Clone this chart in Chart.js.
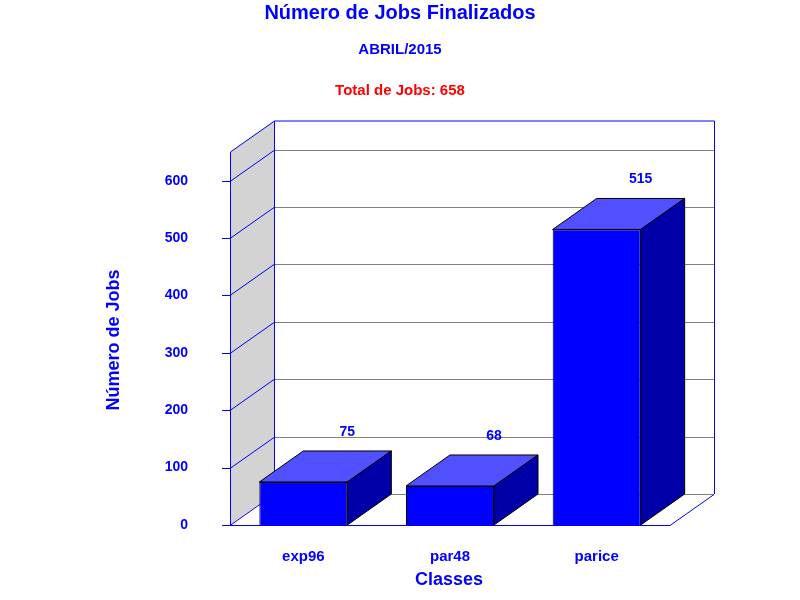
<!DOCTYPE html>
<html><head><meta charset="utf-8">
<script src="https://cdn.jsdelivr.net/npm/chart.js@4/dist/chart.umd.min.js"></script>
<style>html,body{margin:0;padding:0;background:#fff}#w{width:800px;height:600px}</style>
</head><body><div id="w"><canvas id="c"></canvas></div>
<script>
const categories = ["exp96", "par48", "parice"];
const jobs = [75, 68, 515];
const yTicks = [0, 100, 200, 300, 400, 500, 600];
const titleText = "Número de Jobs Finalizados";
const subtitleText = "ABRIL/2015";
const totalText = "Total de Jobs: 658";

const DX = 44, DY = -31;
const F = '"Liberation Sans", Arial, sans-serif';
const BLUE = '#0000ff';

const threeD = {
  id: 'threeD',
  beforeDatasetsDraw(chart) {
    const ctx = chart.ctx, a = chart.chartArea, y = chart.scales.y;
    const L = a.left, R = a.right, B = a.bottom, T = y.getPixelForValue(650);
    ctx.save();
    // left wall
    ctx.fillStyle = '#d3d3d3';
    ctx.beginPath(); ctx.moveTo(L, B); ctx.lineTo(L, T); ctx.lineTo(L + DX, T + DY); ctx.lineTo(L + DX, B + DY); ctx.closePath(); ctx.fill();
    ctx.lineWidth = 1;
    // gridlines
    yTicks.forEach(v => {
      const p = Math.round(y.getPixelForValue(v)) + 0.5;
      ctx.strokeStyle = '#808080';
      ctx.beginPath(); ctx.moveTo(L + DX, p + DY); ctx.lineTo(R + DX, p + DY); ctx.stroke();
      ctx.strokeStyle = BLUE;
      ctx.beginPath(); ctx.moveTo(L - 8, p); ctx.lineTo(L, p); ctx.lineTo(L + DX, p + DY); ctx.stroke();
    });
    ctx.strokeStyle = BLUE;
    ctx.beginPath();
    ctx.moveTo(L + .5, B); ctx.lineTo(L + .5, T); ctx.lineTo(L + DX + .5, T + DY);
    ctx.lineTo(R + DX + .5, T + DY); ctx.lineTo(R + DX + .5, B + DY);
    ctx.moveTo(L + DX + .5, T + DY); ctx.lineTo(L + DX + .5, B + DY);
    ctx.moveTo(L, B + .5); ctx.lineTo(R, B + .5); ctx.lineTo(R + DX, B + DY + .5);
    ctx.stroke();
    ctx.restore();
  },
  afterDatasetsDraw(chart) {
    const ctx = chart.ctx;
    ctx.save();
    chart.getDatasetMeta(0).data.forEach((bar, i) => {
      const l = bar.x - bar.width / 2, r = bar.x + bar.width / 2, t = bar.y, b = bar.base;
      ctx.strokeStyle = '#000'; ctx.lineWidth = 1;
      ctx.fillStyle = '#5050ff';
      ctx.beginPath(); ctx.moveTo(l, t); ctx.lineTo(l + DX, t + DY); ctx.lineTo(r + DX, t + DY); ctx.lineTo(r, t); ctx.closePath(); ctx.fill(); ctx.stroke();
      ctx.fillStyle = '#0000a8';
      ctx.beginPath(); ctx.moveTo(r, t); ctx.lineTo(r + DX, t + DY); ctx.lineTo(r + DX, b + DY); ctx.lineTo(r, b); ctx.closePath(); ctx.fill(); ctx.stroke();
      ctx.fillStyle = BLUE; ctx.font = 'bold 14px ' + F; ctx.textAlign = 'center'; ctx.textBaseline = 'middle';
      ctx.fillText(String(jobs[i]), bar.x + DX, t + DY - 19);
    });
    // titles
    ctx.textAlign = 'center'; ctx.textBaseline = 'middle';
    ctx.fillStyle = BLUE; ctx.font = 'bold 20px ' + F; ctx.fillText(titleText, 400, 13);
    ctx.font = 'bold 15px ' + F; ctx.fillText(subtitleText, 400, 50);
    ctx.fillStyle = '#ff0000'; ctx.fillText(totalText, 400, 91);
    ctx.fillStyle = BLUE; ctx.font = 'bold 18px ' + F;
    ctx.fillText('Classes', 449, 580);
    ctx.translate(114, 340); ctx.rotate(-Math.PI / 2); ctx.fillText('Número de Jobs', 0, 0);
    ctx.restore();
  }
};

new Chart(document.getElementById('c'), {
  type: 'bar',
  data: { labels: categories, datasets: [{ data: jobs, backgroundColor: BLUE, borderColor: '#000', borderWidth: 1, categoryPercentage: 0.6, barPercentage: 1 }] },
  options: {
    responsive: true, maintainAspectRatio: false, animation: false,
    layout: { padding: { top: 152, right: 130, left: 0, bottom: 0 } },
    plugins: { legend: { display: false }, tooltip: { enabled: false } },
    scales: {
      x: { grid: { display: false }, border: { display: false },
           ticks: { color: BLUE, font: { family: F, size: 15, weight: 'bold' }, padding: 15 },
           afterFit(s) { s.height = 75; } },
      y: { min: 0, max: 650, grid: { display: false }, border: { display: false },
           afterBuildTicks(s) { s.ticks = yTicks.map(v => ({ value: v })); },
           ticks: { color: BLUE, font: { family: F, size: 14, weight: 'bold' }, padding: 34 },
           afterFit(s) { s.width = 230; } }
    }
  },
  plugins: [threeD]
});
</script></body></html>
